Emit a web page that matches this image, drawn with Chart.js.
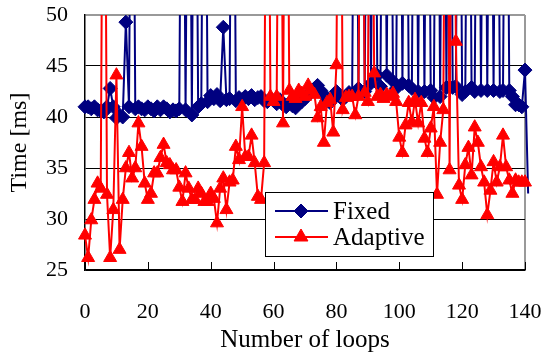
<!DOCTYPE html>
<html><head><meta charset="utf-8">
<script src="https://cdn.jsdelivr.net/npm/chart.js@4"></script>
<style>html,body{margin:0;padding:0;background:#fff;}#wrap{width:545px;height:361px;}</style>
</head><body><div id="wrap"><canvas id="c" width="545" height="361"></canvas></div>
<script>
const loops = [0,1,2,3,4,5,6,7,8,9,10,11,12,13,14,15,16,17,18,19,20,21,22,23,24,25,26,27,28,29,30,31,32,33,34,35,36,37,38,39,40,41,42,43,44,45,46,47,48,49,50,51,52,53,54,55,56,57,58,59,60,61,62,63,64,65,66,67,68,69,70,71,72,73,74,75,76,77,78,79,80,81,82,83,84,85,86,87,88,89,90,91,92,93,94,95,96,97,98,99,100,101,102,103,104,105,106,107,108,109,110,111,112,113,114,115,116,117,118,119,120,121,122,123,124,125,126,127,128,129,130,131,132,133,134,135,136,137,138,139,140,141];
const fixedMs = [41,41,40.8,41,40.7,40.6,40.5,41,42.8,41,
39.9,40.2,40,49.3,41,90,40.8,41,40.8,40.7,
41,40.8,40.6,41,40.7,41,40.8,40.5,40.7,40.6,
40.8,90,40.7,90,40.2,90,41,41.3,90,41.5,
42.1,41.8,42.2,41.6,48.8,41.7,41.8,90,41.6,41.9,
41.7,42,41.8,42.1,41.7,41.9,42,41.6,41.5,41.8,
41.6,41.3,41.7,41.2,41,41.4,41.1,40.9,41.3,41.5,
41.8,42.2,42.5,42.8,43.1,42.6,42.2,41.6,41.4,41.8,
42.5,42.1,41.7,42,42.4,42.2,90,42.8,90,42.5,
90,43.3,90,44.1,43,90,44.1,90,43.5,42.8,
90,43.3,90,43.1,42.8,90,42.5,90,42.5,90,
42.6,41.9,90,42,90,42.9,90,42.9,43,90,
42.2,42.5,90,42.9,42.5,90,42.6,90,42.6,90,
42.6,90,42.5,42.6,90,42.6,42,41.2,41.2,41,
44.6,32.5];
const adaptiveMs = [28.4,26.2,29.9,31.9,33.5,33,90,32.4,26.2,30.9,
44.1,27,31.9,35,36.5,34,35,39.4,37.1,33.5,
31.9,32.5,34.5,34.5,36,37.3,35.5,35.3,34.8,34.8,
33.1,31.7,34.5,33,31.9,31.9,33,32.5,31.7,31.7,
32.5,32,29.6,33,34,30.9,33.6,33.8,37.1,35.8,
41,36.1,36.1,38.2,35.5,32.2,31.9,35.5,90,42,
41.5,42,90,39.4,90,42.6,42,41.8,42.6,42.3,
42,43.1,42.6,42.2,39.9,41,37.5,41.4,41.7,38.5,
45.1,90,40.7,41.9,42,42,40.2,42,90,42.4,
41.5,90,44.3,42,42.2,41.8,42.2,42,42.3,41.5,
38,36.5,39.2,41.4,39.5,41.7,39.4,41.4,37.9,36.5,
38.9,41,32.4,37.5,40.7,90,34.8,90,47.4,33.3,
31.9,35.3,37,34.3,39,37.5,35.1,33.6,30.4,32.8,
35.6,33.6,35.1,38.2,35.1,33.8,32.5,33.8,33.6,33.6,
33.6];
const seriesNames = ['Fixed', 'Adaptive'];
const yTickValues = [25,30,35,40,45,50];
const xTickValues = [0,20,40,60,80,100,120,140];
const xTitle = 'Number of loops';
const yTitle = 'Time [ms]';

const FONT = "'Liberation Serif', 'Times New Roman', serif";
Chart.defaults.font.family = FONT;
Chart.defaults.color = '#000';
const X_MAX = xTickValues[xTickValues.length-1];

function pts(arr){ const out=[]; for(let i=0;i<arr.length;i++) out.push({x:loops[i], y:arr[i]}); return out; }

function marker(ctx, style, x, y, r){
  ctx.beginPath();
  if(style==='rectRot'){ ctx.moveTo(x-r,y); ctx.lineTo(x,y-r); ctx.lineTo(x+r,y); ctx.lineTo(x,y+r); }
  else { ctx.moveTo(x, y-r); ctx.lineTo(x+r*0.866, y+r*0.5); ctx.lineTo(x-r*0.866, y+r*0.5); }
  ctx.closePath(); ctx.fill(); ctx.stroke();
}

const framePlugin = {
  id:'framePlugin',
  beforeDatasetsDraw(chart){
    const {ctx, chartArea:a, scales:{x}} = chart;
    ctx.save(); ctx.strokeStyle='#000'; ctx.lineWidth=1;
    xTickValues.forEach(v=>{ const px=Math.round(x.getPixelForValue(v))+0.5; ctx.beginPath(); ctx.moveTo(px,a.bottom); ctx.lineTo(px,a.bottom-8); ctx.stroke(); });
    ctx.restore();
  },
  afterDraw(chart){
    const ctx=chart.ctx;
    const lx=265, ly=192, lw=168, lh=64;
    ctx.save();
    ctx.fillStyle='#fff'; ctx.fillRect(lx,ly,lw,lh);
    ctx.strokeStyle='#000'; ctx.lineWidth=1; ctx.strokeRect(lx+0.5,ly+0.5,lw,lh);
    chart.data.datasets.forEach((ds,i)=>{
      const y = ly+19+i*26;
      ctx.strokeStyle=ds.borderColor; ctx.lineWidth=2;
      ctx.beginPath(); ctx.moveTo(lx+10,y); ctx.lineTo(lx+63,y); ctx.stroke();
      ctx.fillStyle=ds.pointBackgroundColor; ctx.lineWidth=1;
      marker(ctx, ds.pointStyle, lx+36, y, ds.pointStyle==='rectRot'?7:8);
      ctx.fillStyle='#000'; ctx.font='25px '+FONT; ctx.textBaseline='middle'; ctx.textAlign='left';
      ctx.fillText(ds.label, lx+68, y+1);
    });
    ctx.restore();
  }
};

new Chart(document.getElementById('c'), {
  type:'line',
  data:{ datasets:[
    { label:seriesNames[0], data:pts(fixedMs), borderColor:'#000080', backgroundColor:'#000080', pointBackgroundColor:'#000080', pointBorderColor:'#000080',
      pointStyle:'rectRot', pointRadius:(c)=> (c.raw && c.raw.x > X_MAX) ? 0 : 7, pointBorderWidth:(c)=> (c.raw && c.raw.x > X_MAX) ? 0 : 1,
      borderWidth:2, tension:0, order:2, clip:{left:10,top:0,right:12,bottom:10} },
    { label:seriesNames[1], data:pts(adaptiveMs), borderColor:'#ff0000', backgroundColor:'#ff0000', pointBackgroundColor:'#ff0000', pointBorderColor:'#ff0000',
      pointStyle:'triangle', pointRadius:7.5, pointBorderWidth:1, borderWidth:2, tension:0, order:1, clip:{left:10,top:0,right:12,bottom:10} }
  ]},
  options:{
    responsive:false, animation:false, devicePixelRatio:1,
    layout:{ padding:{ left:0, top:15, right:20, bottom:0 } },
    plugins:{ legend:{display:false}, tooltip:{enabled:false} },
    scales:{
      x:{ type:'linear', bounds:'data',
        afterDataLimits(s){ s.min = xTickValues[0]; s.max = X_MAX; },
        afterBuildTicks(s){ s.ticks = xTickValues.map(v=>({value:v})); s.min = xTickValues[0]; s.max = X_MAX; },
        afterFit(s){ s.height = 91; s.paddingLeft = 0; s.paddingRight = 0; },
        ticks:{ font:{size:22}, padding:29, maxRotation:0, color:'#000' },
        grid:{ drawTicks:false, color:(c)=> (c.tick && c.tick.value===X_MAX) ? '#999999' : 'rgba(0,0,0,0)', lineWidth:(c)=> (c.tick && c.tick.value===X_MAX)?2:1 },
        border:{ display:true, color:'#000', width:1.5 },
        title:{ display:true, text:xTitle, font:{size:25}, padding:{top:4, bottom:6}, color:'#000' }
      },
      y:{ min:25, max:50,
        afterBuildTicks(s){ s.ticks = yTickValues.map(v=>({value:v})); },
        afterFit(s){ s.width = 85; s.paddingTop = 0; s.paddingBottom = 0; },
        ticks:{ font:{size:22}, padding:17, color:'#000' },
        grid:{ drawTicks:false, color:(c)=> (c.tick && c.tick.value===50) ? '#999999' : '#000', lineWidth:(c)=> (c.tick && c.tick.value===50)?2:1 },
        border:{ display:true, color:'#000', width:1.5 },
        title:{ display:true, text:yTitle, font:{size:24}, padding:{top:5,bottom:0}, color:'#000' }
      }
    }
  },
  plugins:[framePlugin]
});
</script></body></html>
